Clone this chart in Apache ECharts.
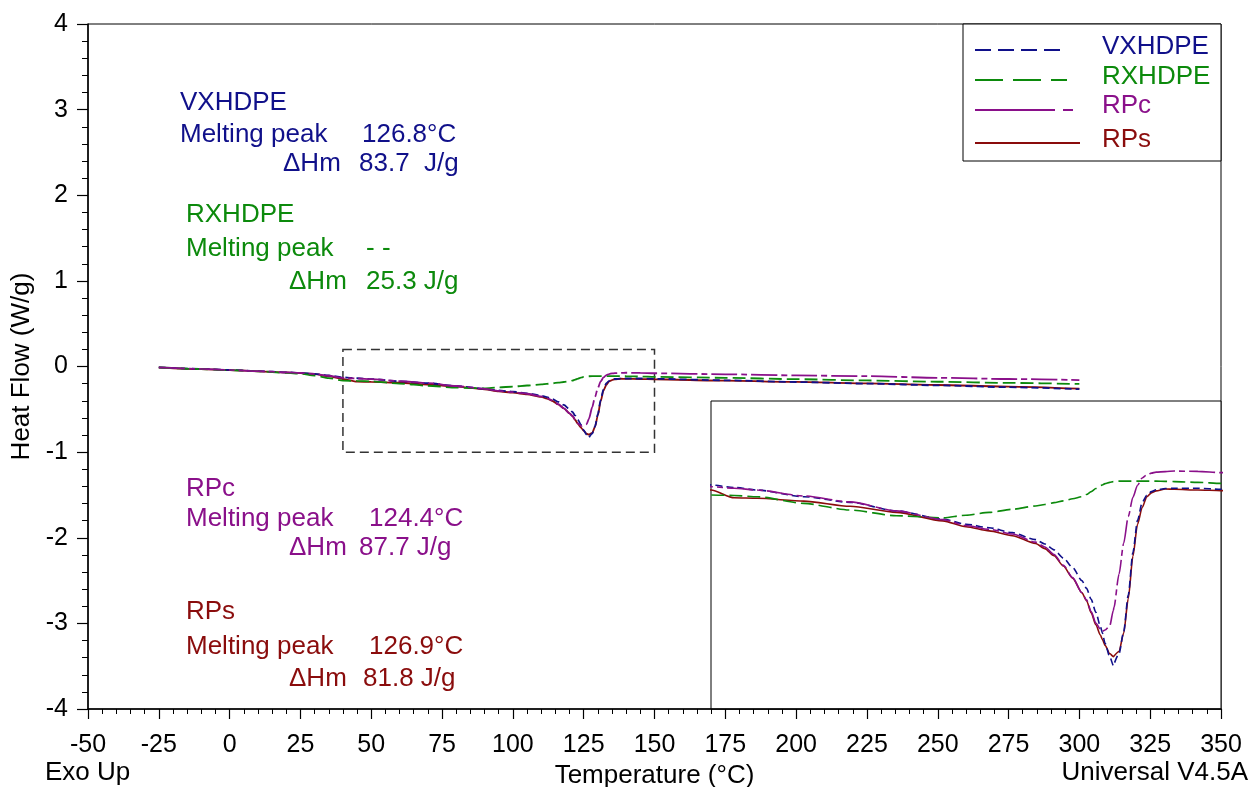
<!DOCTYPE html>
<html>
<head>
<meta charset="utf-8">
<title>DSC heat flow</title>
<script src="https://cdn.jsdelivr.net/npm/echarts@6/dist/echarts.min.js"></script>
<style>
  html, body { margin: 0; padding: 0; background: #fff; overflow: hidden; }
  #chart { width: 1253px; height: 787px; }
</style>
</head>
<body>
<div id="chart"></div>
<script>
// Temperature grid (°C) shared by all four thermograms
const temps = [
  -25, -10, 0, 10, 20, 25, 30, 35, 40, 45,
  50, 60, 70, 80, 90, 95, 100, 105, 110, 112,
  114, 116, 118, 120, 121, 122, 123, 124, 124.4, 125,
  126, 126.8, 126.9, 128, 129, 130, 131, 132, 133, 134,
  135, 136, 138, 140, 145, 150, 175, 200, 225, 250,
  275, 300
];

// Heat flow (W/g) for each sample
const vxhdpe = [
  -0.010, -0.028, -0.040, -0.054, -0.068, -0.075, -0.086, -0.105, -0.127, -0.137,
  -0.147, -0.173, -0.195, -0.228, -0.260, -0.280, -0.294, -0.313, -0.340, -0.357,
  -0.380, -0.412, -0.449, -0.500, -0.530, -0.573, -0.623, -0.679, -0.703, -0.744,
  -0.796, -0.831, -0.830, -0.785, -0.700, -0.556, -0.390, -0.265, -0.195, -0.167,
  -0.153, -0.146, -0.141, -0.140, -0.140, -0.144, -0.161, -0.181, -0.200, -0.220,
  -0.242, -0.265
];
const rxhdpe = [
  -0.010, -0.030, -0.042, -0.056, -0.075, -0.085, -0.105, -0.135, -0.166, -0.168,
  -0.173, -0.199, -0.225, -0.247, -0.255, -0.245, -0.234, -0.222, -0.209, -0.203,
  -0.196, -0.189, -0.181, -0.173, -0.164, -0.153, -0.141, -0.130, -0.127, -0.122,
  -0.117, -0.114, -0.114, -0.112, -0.112, -0.112, -0.112, -0.112, -0.112, -0.112,
  -0.112, -0.112, -0.113, -0.114, -0.117, -0.121, -0.132, -0.148, -0.163, -0.178,
  -0.192, -0.204
];
const rpc = [
  -0.010, -0.028, -0.040, -0.054, -0.068, -0.075, -0.086, -0.108, -0.134, -0.140,
  -0.147, -0.170, -0.193, -0.228, -0.262, -0.285, -0.300, -0.318, -0.350, -0.369,
  -0.398, -0.440, -0.488, -0.547, -0.575, -0.620, -0.665, -0.690, -0.697, -0.692,
  -0.676, -0.615, -0.605, -0.475, -0.355, -0.250, -0.175, -0.128, -0.100, -0.088,
  -0.081, -0.077, -0.075, -0.073, -0.074, -0.079, -0.091, -0.104, -0.113, -0.132,
  -0.146, -0.158
];
const rps = [
  -0.012, -0.030, -0.042, -0.056, -0.070, -0.078, -0.090, -0.115, -0.147, -0.177,
  -0.179, -0.190, -0.210, -0.234, -0.267, -0.290, -0.306, -0.325, -0.355, -0.375,
  -0.403, -0.443, -0.490, -0.547, -0.578, -0.625, -0.672, -0.712, -0.728, -0.752,
  -0.784, -0.796, -0.797, -0.776, -0.705, -0.570, -0.405, -0.280, -0.215, -0.173,
  -0.158, -0.150, -0.143, -0.144, -0.147, -0.149, -0.166, -0.180, -0.198, -0.216,
  -0.234, -0.259
];

// Sample names, colours and dash patterns
const names = ['VXHDPE', 'RXHDPE', 'RPc', 'RPs'];
const colors = ['#10108a', '#0c8a0c', '#8a108a', '#8a0c0c'];
const curveDash = [[7, 4], [13, 5], [26, 4, 6, 4], 'solid'];
const legendDash = [[16, 7], [28, 10], [80, 8, 10, 0], null];

// Zoomed window shown in the inset: [tMin, tMax, hMin, hMax]
const zoomWindow = [40, 150, -1, 0.2];

const FONT = 'Liberation Sans, Arial, sans-serif';
const FS = 26;
const TICK_FS = 25;

const valueSets = [vxhdpe, rxhdpe, rpc, rps];
const drawOrder = [3, 0, 1, 2];

function pairs(vals) { return temps.map((t, i) => [t, vals[i]]); }

const series = [];
[0, 1].forEach(g => {
  drawOrder.forEach(k => {
    const s = {
      name: names[k] + (g ? ' (inset)' : ''),
      type: 'line',
      xAxisIndex: g, yAxisIndex: g,
      data: pairs(valueSets[k]),
      showSymbol: false,
      smooth: 0.25,
      smoothMonotone: 'x',
      lineStyle: { color: colors[k], width: g ? 1.6 : 1.8, type: curveDash[k] },
      silent: true
    };
    if (g === 0 && k === 3) {
      s.markArea = {
        silent: true,
        itemStyle: { color: 'rgba(0,0,0,0)', borderColor: '#333', borderWidth: 1.5, borderType: [9, 5] },
        data: [[{ coord: [zoomWindow[0], zoomWindow[3]] }, { coord: [zoomWindow[1], zoomWindow[2]] }]]
      };
    }
    series.push(s);
  });
});

// Annotation blocks: [colour, title, titleY, peakY, peakText, peakX, dhY, dhText, dhX, left, dhLeft]
const notes = [
  [0, 'VXHDPE', 103, 135, '126.8°C', 362, 164, '83.7  J/g', 359, 180, 283],
  [1, 'RXHDPE', 215, 249, '- -', 366, 282, '25.3 J/g', 366, 186, 289],
  [2, 'RPc', 489, 519, '124.4°C', 369, 548, '87.7 J/g', 359, 186, 289],
  [3, 'RPs', 612, 647, '126.9°C', 369, 679, '81.8 J/g', 363, 186, 289]
];

function txt(x, y, text, color, align) {
  return {
    type: 'text', x: x, y: y, silent: true,
    style: { text: text, fill: color, font: FS + 'px ' + FONT, textAlign: align || 'left', textVerticalAlign: 'middle' }
  };
}

const graphics = [];
notes.forEach(n => {
  const c = colors[n[0]];
  graphics.push(txt(n[9], n[2], n[1], c));
  graphics.push(txt(n[9], n[3], 'Melting peak', c));
  graphics.push(txt(n[5], n[3], n[4], c));
  graphics.push(txt(n[10], n[6], 'ΔHm', c));
  graphics.push(txt(n[8], n[6], n[7], c));
});

// Legend box
graphics.push({
  type: 'rect', silent: true, z: 10,
  shape: { x: 963, y: 24, width: 258, height: 137 },
  style: { fill: '#fff', stroke: '#000', lineWidth: 1 }
});
const legendRows = [[50, 47], [80, 77], [110, 106], [143, 140]];
const legendLen = [85, 92, 98, 105];
names.forEach((nm, k) => {
  graphics.push({
    type: 'line', silent: true, z: 11,
    shape: { x1: 975, y1: legendRows[k][0], x2: 975 + legendLen[k], y2: legendRows[k][0] },
    style: { stroke: colors[k], lineWidth: 2, lineDash: legendDash[k] }
  });
  graphics.push(Object.assign(txt(1102, legendRows[k][1], nm, colors[k]), { z: 11 }));
});

// Footer captions
graphics.push(txt(45, 773, 'Exo Up', '#000'));
graphics.push(txt(1248, 773, 'Universal V4.5A', '#000', 'right'));

const axisLineStyle = { onZero: false, lineStyle: { color: '#000', width: 1.5 } };

const option = {
  animation: false,
  backgroundColor: '#fff',
  grid: [
    { left: 88, top: 24, width: 1133, height: 685, containLabel: false, outerBoundsMode: 'none',
      show: true, borderColor: '#000', borderWidth: 1, backgroundColor: 'transparent' },
    { left: 711, top: 401, width: 510, height: 308, containLabel: false, outerBoundsMode: 'none',
      show: true, borderColor: '#000', borderWidth: 1, backgroundColor: '#fff' }
  ],
  xAxis: [
    {
      type: 'value', gridIndex: 0, min: -50, max: 350, interval: 25,
      axisLine: axisLineStyle,
      axisTick: { length: 10, lineStyle: { color: '#000', width: 1.2 } },
      minorTick: { show: true, splitNumber: 5, length: 5, lineStyle: { color: '#000', width: 1 } },
      splitLine: { show: false },
      axisLabel: { color: '#000', fontSize: TICK_FS, fontFamily: FONT, margin: 24 },
      name: 'Temperature (°C)', nameLocation: 'middle', nameGap: 52,
      nameTextStyle: { color: '#000', fontSize: FS, fontFamily: FONT }
    },
    { type: 'value', gridIndex: 1, min: zoomWindow[0], max: zoomWindow[1], show: false }
  ],
  yAxis: [
    {
      type: 'value', gridIndex: 0, min: -4, max: 4, interval: 1,
      axisLine: axisLineStyle,
      axisTick: { length: 11, lineStyle: { color: '#000', width: 1.2 } },
      minorTick: { show: true, splitNumber: 5, length: 6, lineStyle: { color: '#000', width: 1 } },
      splitLine: { show: false },
      axisLabel: { color: '#000', fontSize: TICK_FS, fontFamily: FONT, margin: 20 },
      name: 'Heat Flow (W/g)', nameLocation: 'middle', nameGap: 48, nameRotate: 90,
      nameTextStyle: { color: '#000', fontSize: FS, fontFamily: FONT }
    },
    { type: 'value', gridIndex: 1, min: zoomWindow[2], max: zoomWindow[3], show: false }
  ],
  series: series,
  graphic: graphics
};

const chart = echarts.init(document.getElementById('chart'), null, { renderer: 'canvas' });
chart.setOption(option);
</script>
</body>
</html>
